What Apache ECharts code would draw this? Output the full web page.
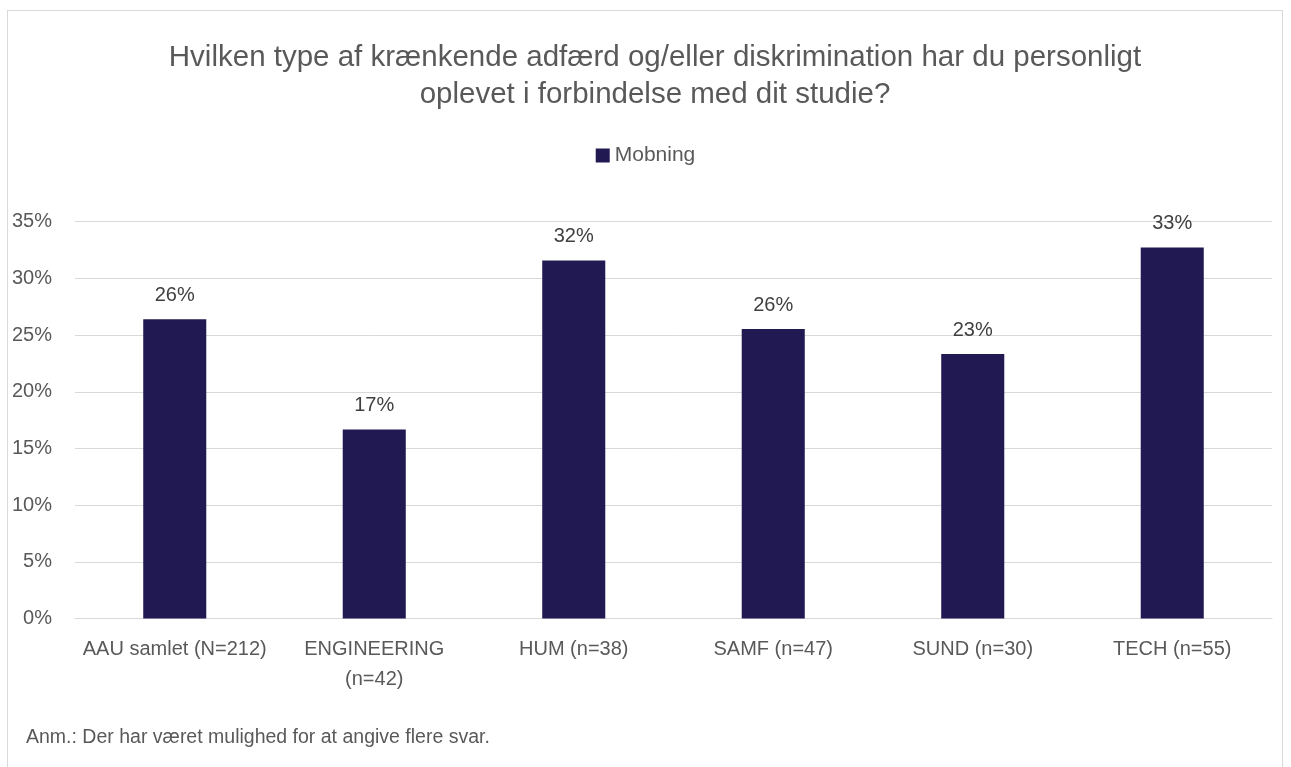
<!DOCTYPE html>
<html><head><meta charset="utf-8">
<script src="https://cdn.jsdelivr.net/npm/echarts@6/dist/echarts.min.js"></script>
<style>html,body{margin:0;padding:0;background:#fff;}
#frame{position:absolute;left:7px;top:10px;width:1276px;height:770px;border:1px solid #d9d9d9;box-sizing:border-box;}
#c{position:absolute;left:0;top:0;width:1291px;height:767px;}</style>
</head><body>
<div id="frame"></div>
<div id="c"></div>
<script>
const categories = ['AAU samlet (N=212)', 'ENGINEERING\n(n=42)', 'HUM (n=38)', 'SAMF (n=47)', 'SUND (n=30)', 'TECH (n=55)'];
const mobning = [0.264, 0.1667, 0.3158, 0.2553, 0.2333, 0.3273];
const yTicks = [0, 0.05, 0.10, 0.15, 0.20, 0.25, 0.30, 0.35];
const FONT = 'Liberation Sans';
const chart = echarts.init(document.getElementById('c'));
chart.setOption({
  animation: false,
  textStyle: {fontFamily: FONT},
  title: {
    text: 'Hvilken type af krænkende adfærd og/eller diskrimination har du personligt\noplevet i forbindelse med dit studie?',
    left: 650, top: 35, textAlign: 'center',
    textStyle: {fontFamily: FONT, fontSize: 29.5, fontWeight: 'normal', color: '#595959', lineHeight: 36.5}
  },
  legend: {
    data: ['Mobning'], top: 140, left: 'center', icon: 'rect', itemWidth: 14, itemHeight: 14, itemGap: 5,
    textStyle: {fontFamily: FONT, fontSize: 21, color: '#595959'}
  },
  graphic: [{type: 'text', left: 26, top: 728, style: {text: 'Anm.: Der har været mulighed for at angive flere svar.', font: '19.5px "' + FONT + '"', fill: '#595959'}}],
  grid: {left: 75, right: 19, top: 221.7, bottom: 767 - 618.5},
  xAxis: {
    type: 'category', data: categories,
    axisLine: {lineStyle: {color: '#d9d9d9', width: 1}},
    axisTick: {show: false},
    axisLabel: {fontFamily: FONT, fontSize: 20, color: '#595959', margin: 16, lineHeight: 30, interval: 0}
  },
  yAxis: {
    type: 'value', min: 0, max: 0.35, interval: 0.05,
    axisLine: {show: false}, axisTick: {show: false},
    splitLine: {lineStyle: {color: '#d9d9d9', width: 1}},
    axisLabel: {fontFamily: FONT, fontSize: 20, color: '#595959', margin: 23,
      formatter: v => Math.round(v * 100) + '%'}
  },
  series: [{
    name: 'Mobning', type: 'bar', data: mobning, barWidth: '31.6%',
    itemStyle: {color: '#211a52'},
    label: {show: true, position: 'top', distance: 14, fontFamily: FONT, fontSize: 20, color: '#404040',
      formatter: p => Math.round(p.value * 100) + '%'}
  }]
});
</script>
</body></html>
